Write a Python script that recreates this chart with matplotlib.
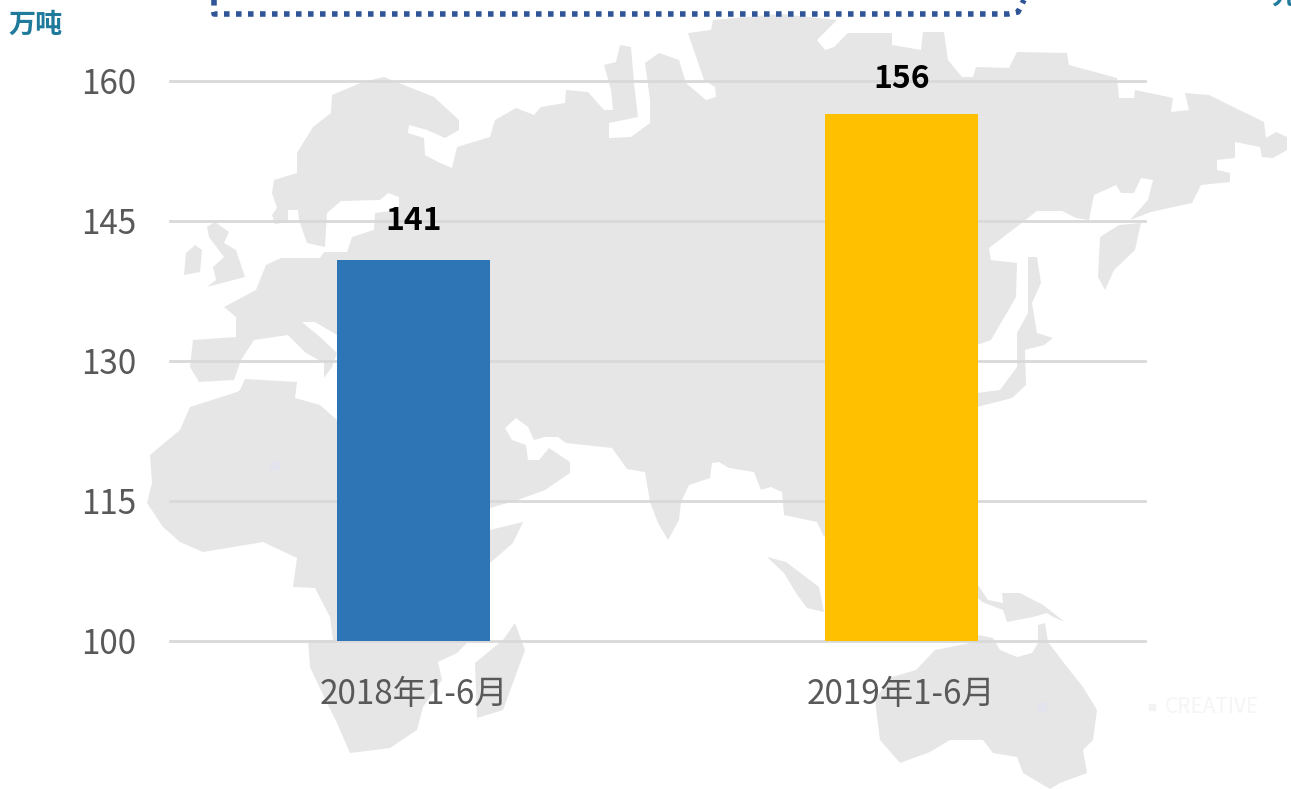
import matplotlib
matplotlib.use("Agg")
import matplotlib.pyplot as plt
from matplotlib.patches import Polygon

plt.rcParams['font.family'] = ['Noto Sans CJK SC', 'DejaVu Sans']

# data
categories = ["2018年1-6月", "2019年1-6月"]
values = [140.8, 156.5]
value_labels = ["141", "156"]
bar_colors = ["#2e75b6", "#ffc000"]
y_ticks = [100, 115, 130, 145, 160]
unit = "万吨"

# background world map, traced in image pixels
eurasia = [(384,77),(434,97),(459,120),(459,130),(445,138),(427,130),(409,125),(408,133),(424,138),(425,155),
           (438,162),(452,168),(457,147),(490,137),(495,120),(516,108),(534,115),(541,107),(565,103),(566,90),
           (588,92),(604,110),(613,110),(611,90),(604,65),(616,62),(620,45),(631,47),(634,83),(638,117),
           (609,123),(609,138),(631,137),(650,123),(650,100),(645,63),(659,53),(679,60),(686,83),(706,100),
           (716,97),(715,87),(704,80),(688,33),(711,30),(713,20),(780,14),(837,20),(817,40),(825,50),(834,47),
           (848,33),(892,33),(892,45),(921,50),(923,32),(944,32),(948,60),(962,77),(973,77),(976,67),(1009,68),
           (1017,52),(1067,53),(1069,65),(1117,78),(1119,98),(1134,98),(1135,90),(1173,98),(1171,112),(1189,110),
           (1185,93),(1209,95),(1264,122),(1266,138),(1276,132),(1287,137),(1287,150),(1273,158),(1262,157),
           (1260,147),(1235,142),(1235,158),(1217,160),(1217,170),(1230,173),(1230,182),(1201,185),(1192,203),
           (1151,212),(1130,220),(1148,200),(1153,180),(1141,178),(1134,193),(1121,193),(1116,185),(1094,195),
           (1089,220),(1076,218),(1062,211),(1037,211),(1019,225),(989,248),(991,260),(1017,263),(1016,297),
           (991,340),(977,345),(900,480),(824,537),(817,522),(784,515),(782,492),(771,487),(761,490),(754,472),
           (729,468),(719,462),(712,463),(710,478),(689,485),(681,502),(679,520),(668,540),(658,523),(650,502),
           (645,472),(627,469),(612,448),(566,443),(558,437),(545,437),(534,440),(528,427),(516,418),(505,428),
           (512,440),(526,445),(528,460),(539,460),(549,448),(570,462),(570,473),(545,490),(518,500),(490,508),
           (400,508),(400,340),(337,335),(315,322),(302,322),(320,337),(337,353),(332,367),(324,378),(324,363),
           (306,353),(288,335),(254,340),(241,360),(234,380),(199,382),(190,367),(193,340),(236,337),(236,317),
           (224,307),(256,290),(266,265),(281,258),(320,258),(324,252),(347,252),(352,237),(374,230),(375,213),
           (399,210),(399,197),(388,193),(380,200),(341,201),(327,213),(325,247),(307,243),(299,220),(298,210),
           (288,210),(288,222),(275,224),(272,215),(277,208),(272,193),(274,180),(297,173),(297,153),(313,127),
           (331,113),(332,95),(363,82)]
africa = [(240,390),(245,379),(297,382),(295,398),(320,405),(337,420),(400,420),(490,530),(523,522),(513,543),
          (490,563),(467,643),(457,653),(438,662),(442,680),(423,707),(417,730),(390,748),(350,753),(337,723),
          (327,703),(310,667),(308,640),(333,640),(330,617),(315,588),(293,587),(297,558),(263,542),(203,552),
          (180,542),(163,527),(147,503),(152,483),(150,455),(180,430),(190,407),(237,392)]
madagascar = [(515,623),(525,650),(503,710),(477,718),(475,663),(503,640)]
ireland = [(184,275),(186,253),(195,245),(202,250),(200,272)]
britain = [(207,227),(215,222),(229,232),(224,243),(236,250),(245,277),(207,287),(216,280),(213,267),(224,257),(209,237)]
japan = [(1100,237),(1119,225),(1141,223),(1135,250),(1114,270),(1105,290),(1098,277)]
korea = [(1028,257),(1037,257),(1041,283),(1032,303),(1037,333),(1053,338),(1044,345),(1025,350),(1026,385),
         (1012,398),(977,407),(977,393),(1000,390),(1017,367),(1017,333),(1028,313)]
sumatra = [(767,557),(786,562),(819,587),(824,612),(807,608),(796,593),(784,573)]
guinea = [(978,585),(988,600),(1003,603),(1002,593),(1020,593),(1043,605),(1065,622),(1053,617),(1047,613),
          (1033,617),(1007,622),(1003,610),(982,602),(978,598)]
australia = [(978,635),(993,638),(1000,650),(1017,657),(1032,653),(1038,643),(1038,625),(1045,623),(1048,642),
             (1067,667),(1083,687),(1097,710),(1093,740),(1083,750),(1087,773),(1060,783),(1050,789),(1023,773),
             (1017,757),(993,753),(983,740),(950,740),(930,752),(900,763),(880,740),(875,700),(889,678),(916,670),
             (935,650),(970,643)]
land = [eurasia, africa, madagascar, ireland, britain, japan, korea, sumatra, guinea, australia]
box_x = [214, 214, 1008, 1018, 1024]
box_y = [0, 14, 14, 12, 0]

fig = plt.figure(figsize=(12.91, 7.89), dpi=100)

bg = fig.add_axes([0, 0, 1, 1])
bg.set_xlim(0, 1291)
bg.set_ylim(789, 0)
bg.axis("off")
for shape in land:
    bg.add_patch(Polygon(shape, closed=True, facecolor="#e6e6e6", edgecolor="none"))
bg.plot(box_x, box_y, color="#2f5597", lw=4, linestyle=(0, (1, 1.16)), dash_capstyle="butt")
bg.plot([275, 1042], [465, 707], linestyle="none", marker="s", ms=6, color="#e2e3ec")
bg.plot([1152], [707], linestyle="none", marker="s", ms=5, color="#f3f3f3")
bg.text(1165, 707, "CREATIVE", color="#f5f5f5", fontsize=15, va="center")
bg.text(8, 25, unit, color="#1f7a9c", fontsize=19.5, fontweight="bold", va="center")
bg.text(1271, -4, "元", color="#1f7a9c", fontsize=19.5, fontweight="bold", va="center")

# chart area: x 170..1145, y 100 at 641 and 160 at 81
ax = fig.add_axes([170 / 1291, (789 - 641) / 789, 975 / 1291, 560 / 789])
ax.patch.set_alpha(0)
x = range(len(categories))
ax.set_axisbelow(True)
ax.yaxis.grid(True, color="#d9d9d9", lw=2)
bars = ax.bar(x, values, width=0.314, color=bar_colors, zorder=3)
for rect, lab, off in zip(bars, value_labels, [28, 25]):
    ax.annotate(lab, (rect.get_x() + rect.get_width() / 2, rect.get_height()), xytext=(0, off),
                textcoords="offset points", ha="center", va="center", fontsize=23, fontweight="bold", color="black")
ax.set_xlim(-0.5, 1.5)
ax.set_ylim(100, 160)
ax.set_yticks(y_ticks)
ax.set_xticks(list(x), categories)
ax.tick_params(axis="both", length=0, labelcolor="#595959", labelsize=24)
ax.tick_params(axis="y", pad=24)
ax.tick_params(axis="x", pad=26)
for gl in ax.get_ygridlines():
    gl.set_clip_on(False)
for s in ax.spines.values():
    s.set_visible(False)

fig.savefig("out.png", dpi=100)
